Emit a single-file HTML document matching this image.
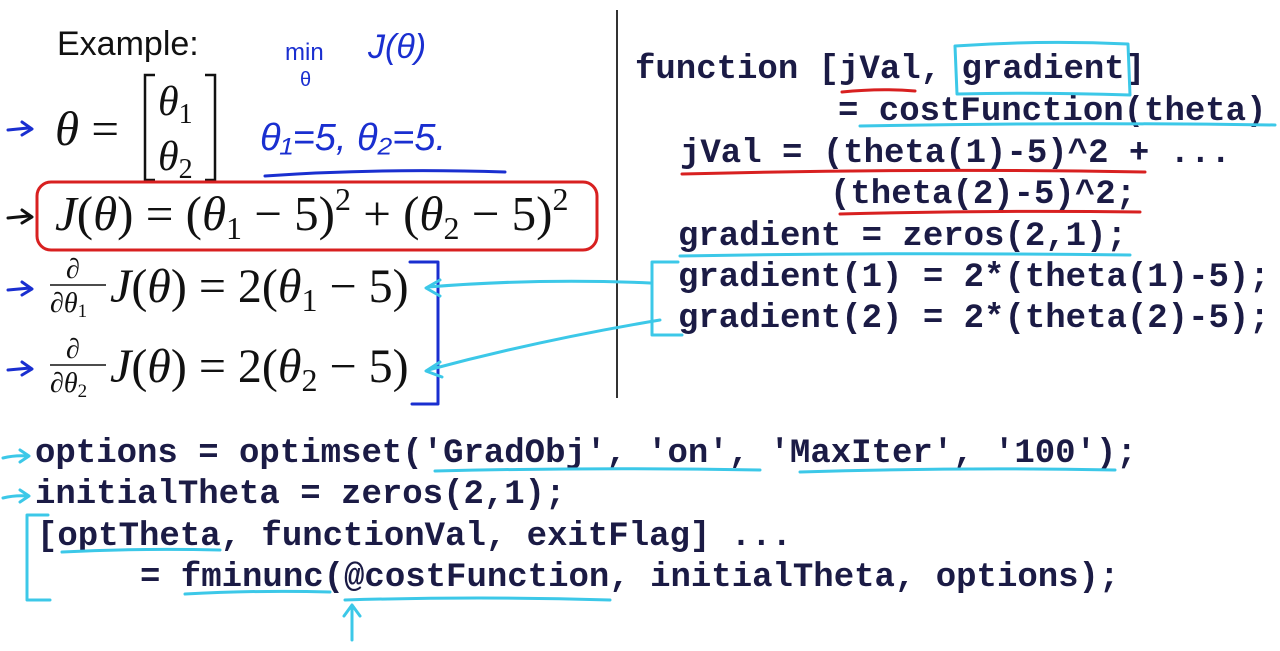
<!DOCTYPE html>
<html><head><meta charset="utf-8"><style>
html,body{margin:0;padding:0;background:#fff;width:1280px;height:651px;overflow:hidden}
svg{display:block}
.c{font-family:"Liberation Mono",monospace;font-weight:bold;font-size:34px;fill:#1b1b45;white-space:pre}
.m{font-family:"Liberation Serif",serif;font-size:49px;fill:#111}
.i{font-style:italic}
.s{font-size:32px}
.hb{fill:none;stroke:#1a2fd0;stroke-width:3;stroke-linecap:round;stroke-linejoin:round}
.cy{fill:none;stroke:#3cc8e8;stroke-width:3;stroke-linecap:round;stroke-linejoin:round}
.rd{fill:none;stroke:#d82020;stroke-width:3;stroke-linecap:round;stroke-linejoin:round}
</style></head><body>
<svg width="1280" height="651" viewBox="0 0 1280 651" xmlns="http://www.w3.org/2000/svg">
<line x1="617" y1="10" x2="617" y2="398" stroke="#333" stroke-width="2"/>
<text x="57" y="55" font-family="Liberation Sans,sans-serif" font-size="34" fill="#111">Example:</text>

<!-- math -->
<text class="m" x="55" y="145"><tspan class="i">θ</tspan> =</text>
<path d="M155 75 H145 V180 H155 M205 75 H215 V180 H205" fill="none" stroke="#111" stroke-width="2.5"/>
<text class="m" x="158" y="115" style="font-size:42px"><tspan class="i">θ</tspan><tspan style="font-size:28px" dy="8">1</tspan></text>
<text class="m" x="158" y="170" style="font-size:42px"><tspan class="i">θ</tspan><tspan style="font-size:28px" dy="8">2</tspan></text>

<text class="m" x="55" y="230"><tspan class="i">J</tspan>(<tspan class="i">θ</tspan>) = (<tspan class="i">θ</tspan><tspan class="s" dy="9">1</tspan><tspan dy="-9"> − 5)</tspan><tspan class="s" dy="-20">2</tspan><tspan dy="20"> + (</tspan><tspan class="i">θ</tspan><tspan class="s" dy="9">2</tspan><tspan dy="-9"> − 5)</tspan><tspan class="s" dy="-20">2</tspan></text>

<text class="m" x="66" y="278" style="font-size:28px">∂</text>
<line x1="50" y1="285" x2="106" y2="285" stroke="#111" stroke-width="1.5"/>
<text class="m" x="50" y="312" style="font-size:28px">∂<tspan class="i">θ</tspan><tspan style="font-size:19px" dy="5">1</tspan></text>
<text class="m" x="110" y="302" style="font-size:48px"><tspan class="i">J</tspan>(<tspan class="i">θ</tspan>) = 2(<tspan class="i">θ</tspan><tspan class="s" dy="9">1</tspan><tspan dy="-9"> − 5)</tspan></text>

<text class="m" x="66" y="358" style="font-size:28px">∂</text>
<line x1="50" y1="365" x2="106" y2="365" stroke="#111" stroke-width="1.5"/>
<text class="m" x="50" y="392" style="font-size:28px">∂<tspan class="i">θ</tspan><tspan style="font-size:19px" dy="5">2</tspan></text>
<text class="m" x="110" y="382" style="font-size:48px"><tspan class="i">J</tspan>(<tspan class="i">θ</tspan>) = 2(<tspan class="i">θ</tspan><tspan class="s" dy="9">2</tspan><tspan dy="-9"> − 5)</tspan></text>

<!-- handwritten math annotations -->
<path class="hb" d="M8 130 L28 128 M22 122 L32 129 L22 135"/>
<path class="hb" d="M8 218 L28 216 M22 210 L32 217 L22 223" style="stroke:#111"/>
<path class="hb" d="M8 290 L30 288 M22 282 L32 289 L22 295"/>
<path class="hb" d="M8 370 L30 368 M22 362 L32 369 L22 375"/>
<text x="285" y="60" font-family="Liberation Sans,sans-serif" font-size="24" fill="#1a2fd0">min</text>
<text x="368" y="58" font-family="Liberation Sans,sans-serif" font-size="34" fill="#1a2fd0" font-style="italic">J(θ)</text>
<text x="300" y="86" font-family="Liberation Sans,sans-serif" font-size="20" fill="#1a2fd0">θ</text>
<text x="260" y="150" font-family="Liberation Sans,sans-serif" font-size="38" fill="#1a2fd0" font-style="italic">θ₁=5, θ₂=5.</text>
<path class="hb" d="M265 176 Q380 168 505 172"/>
<rect class="rd" x="37" y="182" width="560" height="68" rx="14"/>
<path class="hb" d="M410 262 H438 V404 H412"/>

<!-- code -->
<text class="c" x="635" y="78">function [jVal, gradient]</text>
<text class="c" x="838" y="120">= costFunction(theta)</text>
<text class="c" x="680" y="162">jVal = (theta(1)-5)^2 + ...</text>
<text class="c" x="830" y="203">(theta(2)-5)^2;</text>
<text class="c" x="678" y="245">gradient = zeros(2,1);</text>
<text class="c" x="678" y="286">gradient(1) = 2*(theta(1)-5);</text>
<text class="c" x="678" y="327">gradient(2) = 2*(theta(2)-5);</text>

<text class="c" x="35" y="462">options = optimset('GradObj', 'on', 'MaxIter', '100');</text>
<text class="c" x="35" y="503">initialTheta = zeros(2,1);</text>
<text class="c" x="37" y="545">[optTheta, functionVal, exitFlag] ...</text>
<text class="c" x="140" y="586">= fminunc(@costFunction, initialTheta, options);</text>

<!-- code annotations -->
<path class="rd" d="M842 92 Q880 88 915 91"/>
<path class="cy" d="M955 46 Q1040 40 1128 44 L1130 95 Q1040 92 957 94 Z"/>
<path class="cy" d="M860 126 Q1060 122 1275 125"/>
<path class="rd" d="M682 174 Q910 168 1145 172"/>
<path class="rd" d="M840 214 Q990 210 1140 212"/>
<path class="cy" d="M680 256 Q900 252 1130 255"/>
<path class="cy" d="M678 262 H652 V335 H682"/>
<path class="cy" d="M650 283 Q540 278 428 287 M440 280 L426 288 L440 296"/>
<path class="cy" d="M660 320 Q540 340 428 370 M440 362 L426 371 L442 377"/>
<path class="cy" d="M3 458 Q15 455 28 456 M20 450 L29 456 L20 462"/>
<path class="cy" d="M3 498 Q15 495 28 496 M20 490 L29 496 L20 502"/>
<path class="cy" d="M435 471 Q600 467 760 470"/>
<path class="cy" d="M800 472 Q960 467 1115 470"/>
<path class="cy" d="M48 515 H27 V600 H50"/>
<path class="cy" d="M62 552 Q140 548 220 550"/>
<path class="cy" d="M185 594 Q260 590 330 592"/>
<path class="cy" d="M345 600 Q480 596 610 600"/>
<path class="cy" d="M352 640 L352 606 M344 616 L352 605 L360 616"/>
</svg>
</body></html>
